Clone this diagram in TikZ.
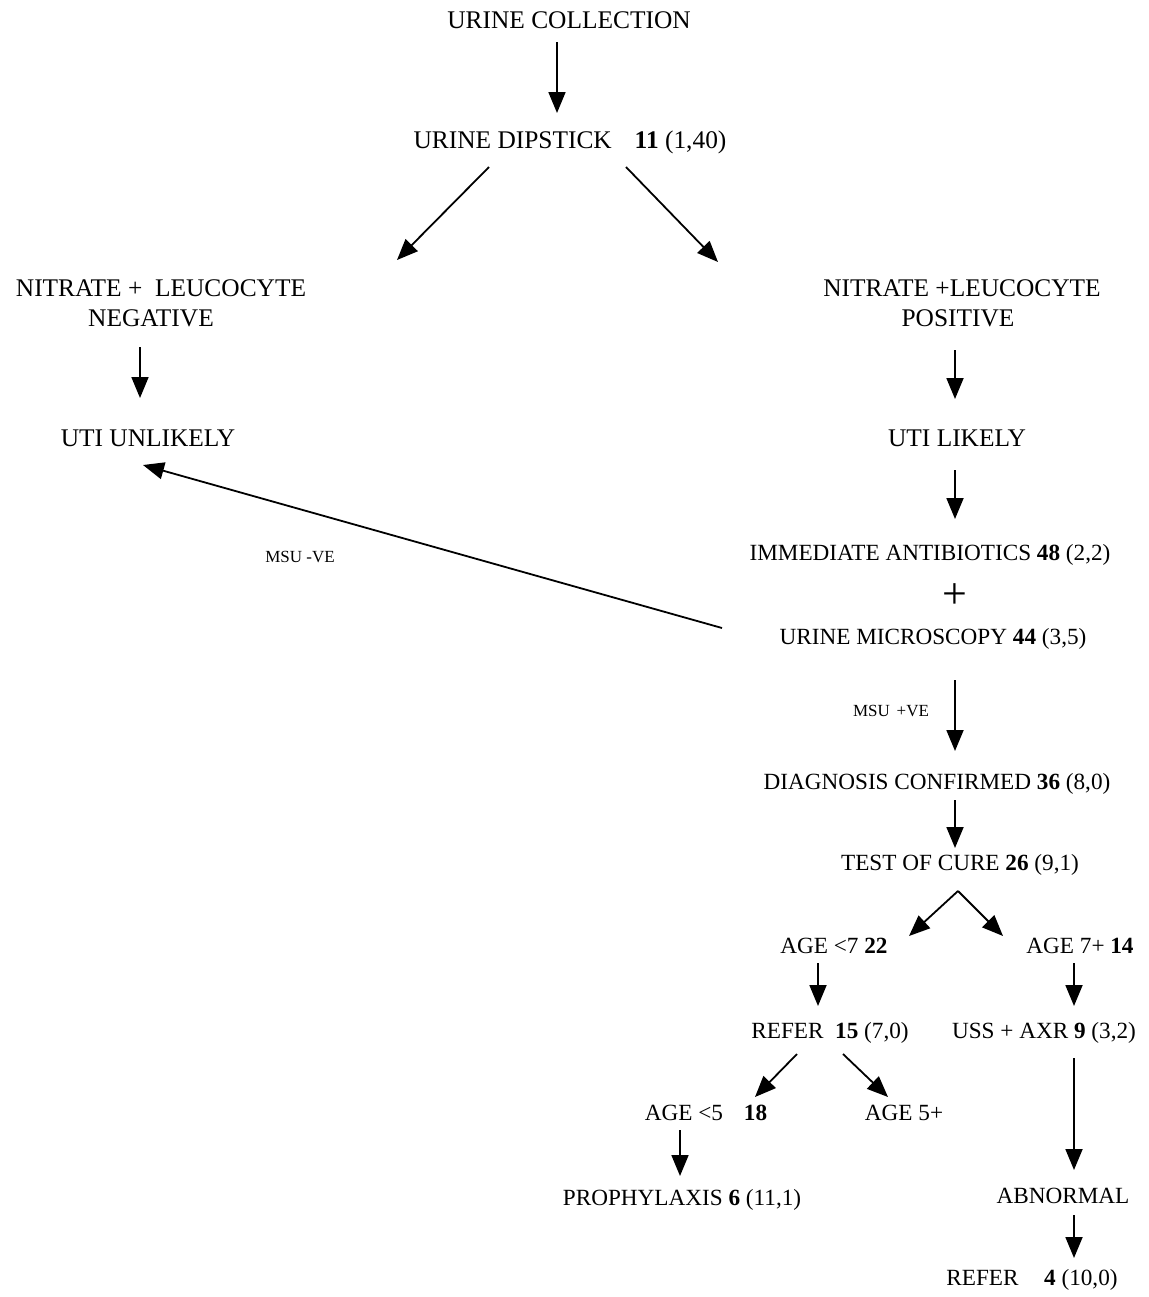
\documentclass[tikz,border=0pt]{standalone}
\usepackage{fontspec}
\setmainfont{Liberation Serif}
\usetikzlibrary{arrows.meta,calc}
\begin{document}
\begin{tikzpicture}[x=0.5pt,y=-0.5pt,
  lbl/.style={inner sep=0pt, text height=8.4pt, text depth=0pt, font=\fontsize{12.7}{15}\selectfont},
  lbs/.style={inner sep=0pt, text height=7.7pt, text depth=0pt, font=\fontsize{11.6}{14}\selectfont},
  lbltwo/.style={inner sep=0pt, align=center, font=\fontsize{12.7}{15}\selectfont},
  sml/.style={inner sep=0pt, font=\fontsize{8.5}{10}\selectfont},
  arr/.style={-{Triangle[length=10.5pt,width=8.5pt]}, line width=0.9pt}]
\useasboundingbox (0,0) rectangle (1149,1297);
\fill[white] (0,0) rectangle (1149,1297);

\node[lbl] (uc) at (569,20) {URINE COLLECTION};
\node[lbl] (ud) at (570,140) {URINE DIPSTICK\hspace{0.9em}\textbf{11} (1,40)};
\node[lbltwo] (neg) at (161,303) {NITRATE +\hspace{0.25em} LEUCOCYTE\\NEGATIVE\hspace*{10pt}};
\node[lbltwo] (pos) at (962,303) {NITRATE +LEUCOCYTE\\POSITIVE\hspace*{4pt}};
\node[lbl] (ulk) at (148,438) {UTI UNLIKELY};
\node[lbl] (lik) at (957,438) {UTI LIKELY};
\node[lbs] (imm) at (930,553) {IMMEDIATE ANTIBIOTICS \textbf{48} (2,2)};
\node[inner sep=0pt, font=\fontsize{22}{22}\selectfont] (plus) at (955,596) {+};
\node[lbs] (mic) at (933,637) {URINE MICROSCOPY \textbf{44} (3,5)};
\node[sml] (msun) at (300,557) {MSU -VE};
\node[sml] (msup) at (891,711) {MSU\hspace{0.4em}+VE};
\node[lbs] (dia) at (937,782) {DIAGNOSIS CONFIRMED \textbf{36} (8,0)};
\node[lbs] (toc) at (960,863) {TEST OF CURE \textbf{26} (9,1)};
\node[lbs] (a7) at (834,946) {AGE {<}7 \textbf{22}};
\node[lbs] (a7p) at (1080,946) {AGE 7+ \textbf{14}};
\node[lbs] (r15) at (830,1031) {REFER\hspace{0.5em}\textbf{15} (7,0)};
\node[lbs] (uss) at (1044,1031) {USS + AXR \textbf{9} (3,2)};
\node[lbs] (a5) at (706,1113) {AGE {<}5\hspace{0.9em}\textbf{18}};
\node[lbs] (a5p) at (904,1113) {AGE 5+};
\node[lbs] (pro) at (682,1198) {PROPHYLAXIS \textbf{6} (11,1)};
\node[lbs] (abn) at (1063,1196) {ABNORMAL};
\node[lbs] (r4) at (1032,1278) {REFER\hspace{1.1em}\textbf{4} (10,0)};

\coordinate (apex) at ($(toc)+(-2,28)$);

\draw[arr] ($(uc)+(-12,22)$) -- ($(ud)+(-13,-27)$);
\draw[arr] ($(ud)+(-81,27)$) -- ($(neg)+(236,-43)$);
\draw[arr] ($(ud)+(56,27)$) -- ($(pos)+(-244,-41)$);
\draw[arr] ($(neg)+(-21,44)$) -- ($(ulk)+(-8,-40)$);
\draw[arr] ($(pos)+(-7,47)$) -- ($(lik)+(-2,-39)$);
\draw[arr] ($(lik)+(-2,32)$) -- ($(imm)+(25,-34)$);
\draw[arr] ($(mic)+(-211,-9)$) -- ($(ulk)+(-5,27)$);
\draw[arr] ($(mic)+(22,43)$) -- ($(dia)+(18,-31)$);
\draw[arr] ($(dia)+(18,18)$) -- ($(toc)+(-5,-15)$);
\draw[arr] (apex) -- ($(a7)+(75,-10)$);
\draw[arr] (apex) -- ($(a7p)+(-77,-10)$);
\draw[arr] ($(a7)+(-16,17)$) -- ($(r15)+(-12,-25)$);
\draw[arr] ($(a7p)+(-6,17)$) -- ($(uss)+(30,-25)$);
\draw[arr] ($(r15)+(-33,23)$) -- ($(a5)+(49,-16)$);
\draw[arr] ($(r15)+(13,23)$) -- ($(a5p)+(-16,-16)$);
\draw[arr] ($(a5)+(-26,17)$) -- ($(pro)+(-2,-22)$);
\draw[arr] ($(uss)+(30,27)$) -- ($(abn)+(11,-26)$);
\draw[arr] ($(abn)+(11,19)$) -- ($(r4)+(42,-20)$);
\end{tikzpicture}
\end{document}
